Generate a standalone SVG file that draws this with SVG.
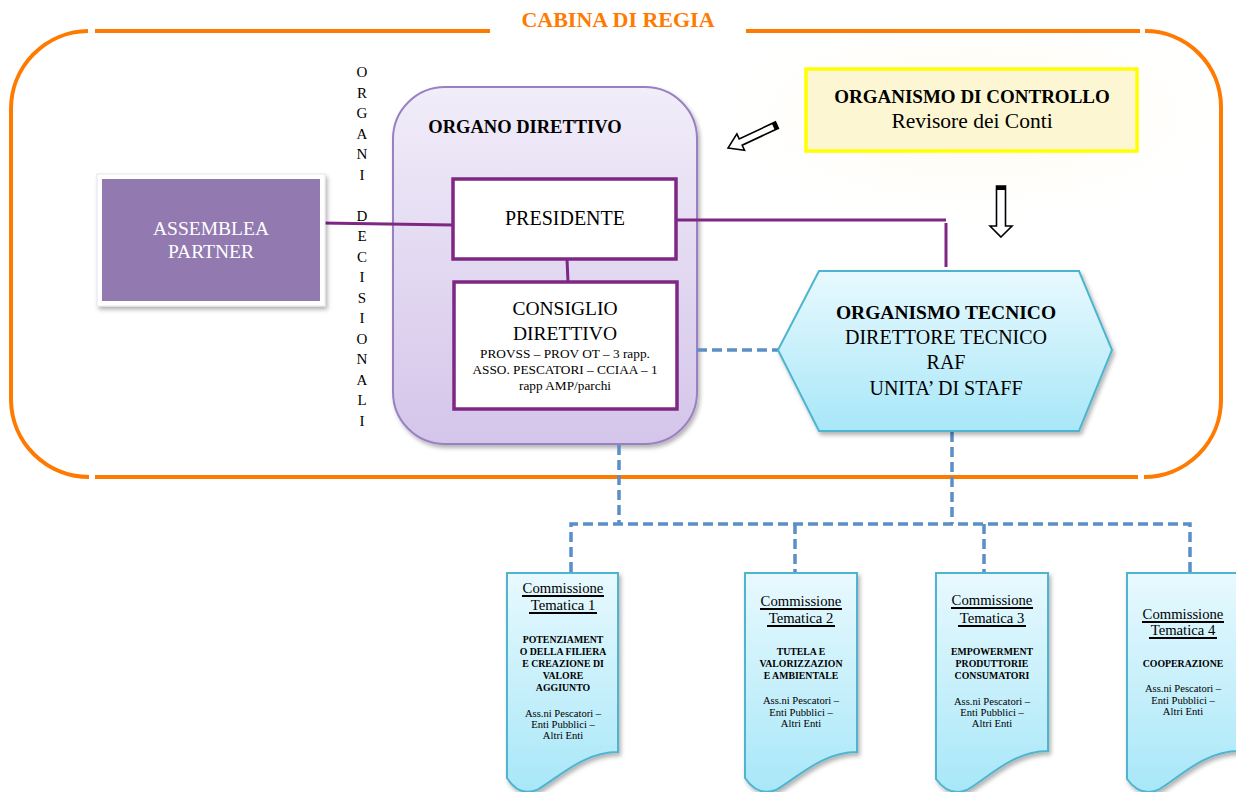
<svg xmlns="http://www.w3.org/2000/svg" width="1236" height="792" viewBox="0 0 1236 792">
<defs>
<linearGradient id="gDir" x1="0" y1="0" x2="0" y2="1"><stop offset="0" stop-color="#f1edf9"/><stop offset="1" stop-color="#d4c5ea"/></linearGradient>
<linearGradient id="gBlue" x1="0" y1="0" x2="0" y2="1"><stop offset="0" stop-color="#e8f9fe"/><stop offset="1" stop-color="#a8e7f8"/></linearGradient>
<radialGradient id="gGlow" cx="0.5" cy="0.5" r="0.5"><stop offset="0" stop-color="#fdf8e2" stop-opacity="0.9"/><stop offset="1" stop-color="#ffffff" stop-opacity="0"/></radialGradient>
<filter id="sh" x="-10%" y="-10%" width="125%" height="125%"><feDropShadow dx="2" dy="3" stdDeviation="2" flood-color="#000" flood-opacity="0.3"/></filter>
<style>
.t{font-family:"Liberation Serif","Times New Roman",serif;fill:#000;text-anchor:middle}
.b{font-weight:bold}
.frame{fill:none;stroke:#ff7a00;stroke-width:4}
.pl{fill:none;stroke:#7e2783;stroke-width:3}
.pbox{fill:#fff;stroke:#7e2783;stroke-width:3.5}
.dash{fill:none;stroke:#5b8fc8;stroke-width:3.5;stroke-dasharray:10 5}
.doc{fill:url(#gBlue);stroke:#4fb4cf;stroke-width:2;filter:url(#sh)}
.arr{fill:#fff;stroke:#000;stroke-width:1.6;stroke-linejoin:miter}
.ul{stroke:#000;stroke-width:1.8}
</style>
</defs>
<rect width="1236" height="792" fill="#fff"/>
<ellipse cx="975" cy="115" rx="290" ry="120" fill="url(#gGlow)"/>

<!-- Cabina di regia frame -->
<g id="cabina">
<path class="frame" d="M88,31 A78,78 0 0 0 11,109 V400 A78,78 0 0 0 89,477"/>
<path class="frame" d="M95,31 H490"/>
<path class="frame" d="M746,31 H1140"/>
<path class="frame" d="M1145,31 A76,76 0 0 1 1221,107 V400 A77,77 0 0 1 1144,477"/>
<path class="frame" d="M95,477 H1138"/>
<text class="t b" x="618" y="27" font-size="22" style="fill:#ff7a00">CABINA DI REGIA</text>
</g>

<!-- vertical label -->
<g id="organi-decisionali" class="t" font-size="15">
<text x="362" y="77">O</text><text x="362" y="97.5">R</text><text x="362" y="118">G</text><text x="362" y="138.5">A</text><text x="362" y="159">N</text><text x="362" y="179.5">I</text>
<text x="362" y="220.5">D</text><text x="362" y="241">E</text><text x="362" y="261.5">C</text><text x="362" y="282">I</text><text x="362" y="302.5">S</text><text x="362" y="323">I</text><text x="362" y="343.5">O</text><text x="362" y="364">N</text><text x="362" y="384.5">A</text><text x="362" y="405">L</text><text x="362" y="425.5">I</text>
</g>

<!-- Organo direttivo container -->
<g id="organo-direttivo">
<rect x="393" y="87" width="304" height="357" rx="52" fill="url(#gDir)" stroke="#9a80c2" stroke-width="2" filter="url(#sh)"/>
<text class="t b" x="525" y="133" font-size="18.5">ORGANO DIRETTIVO</text>
</g>

<!-- connectors -->
<g id="connectors">
<path class="pl" d="M321,223 L453,225"/>
<path class="pl" d="M567,259 L568,282"/>
<path class="pl" d="M676,220 H946"/>
<path class="pl" d="M946,223 V267"/>
<path class="dash" d="M697,350 H779"/>
<path class="dash" d="M619,445 V524"/>
<path class="dash" d="M952,432 V524"/>
<path class="dash" d="M571,572 V524 H1190 V572"/>
<path class="dash" d="M795,524 V572"/>
<path class="dash" d="M984,524 V572"/>
</g>

<g id="presidente">
<rect class="pbox" x="453" y="179" width="223" height="80"/>
<text class="t" x="565" y="225" font-size="20">PRESIDENTE</text>
</g>

<g id="consiglio-direttivo">
<rect class="pbox" x="454" y="282" width="223" height="127"/>
<text class="t" x="565" y="315" font-size="19.5">CONSIGLIO</text>
<text class="t" x="565" y="340" font-size="19.5">DIRETTIVO</text>
<text class="t" x="565" y="358" font-size="13.3">PROVSS – PROV OT – 3 rapp.</text>
<text class="t" x="565" y="374" font-size="13.3">ASSO. PESCATORI – CCIAA – 1</text>
<text class="t" x="565" y="390" font-size="13.3">rapp AMP/parchi</text>
</g>

<g id="assemblea-partner">
<rect x="97" y="174" width="228" height="132" fill="#fff" stroke="#e8e4ee" stroke-width="1" filter="url(#sh)"/>
<rect x="102" y="179" width="218" height="122" fill="#927ab0"/>
<text class="t" x="211" y="235" font-size="19.5" style="fill:#fff">ASSEMBLEA</text>
<text class="t" x="211" y="258" font-size="19.5" style="fill:#fff">PARTNER</text>
</g>

<g id="organismo-controllo">
<rect x="806" y="69" width="331" height="82" fill="#fdf6d2" stroke="#ffff00" stroke-width="3.5"/>
<text class="t b" x="972" y="103" font-size="19">ORGANISMO DI CONTROLLO</text>
<text class="t" x="972" y="128" font-size="21.5">Revisore dei Conti</text>
</g>

<g id="frecce">
<g transform="translate(728,148) rotate(154.9)">
<polygon class="arr" points="0,0 -14,-9 -14,-3.5 -54,-3.5 -54,3.5 -14,3.5 -14,9"/>
<rect x="-54" y="-3.5" width="4" height="7" fill="#000"/>
</g>
<g transform="translate(1001,237) rotate(90)">
<polygon class="arr" points="0,0 -11,-11 -11,-4.5 -51,-4.5 -51,4.5 -11,4.5 -11,11"/>
<rect x="-51" y="-4.5" width="4" height="9" fill="#000"/>
</g>
</g>

<g id="organismo-tecnico">
<polygon points="778,350 819,271 1079,271 1112,350 1079,431 819,431" fill="url(#gBlue)" stroke="#4fb4cf" stroke-width="2" filter="url(#sh)"/>
<text class="t b" x="946" y="319" font-size="19.5">ORGANISMO TECNICO</text>
<text class="t" x="946" y="344" font-size="20">DIRETTORE TECNICO</text>
<text class="t" x="946" y="369" font-size="20">RAF</text>
<text class="t" x="946" y="395" font-size="20">UNITA’ DI STAFF</text>
</g>

<g id="commissione-1">
<path class="doc" d="M507,573 H618 V752 C583,752 558,778 537,790 Q519,797 507,778 Z"/>
<text class="t" x="563" y="593" font-size="14.7">Commissione</text>
<line class="ul" x1="522" y1="596" x2="604" y2="596"/>
<text class="t" x="563" y="610" font-size="14.7">Tematica 1</text>
<line class="ul" x1="529" y1="613" x2="597" y2="613"/>
<g class="t b" font-size="9.8">
<text x="563" y="643">POTENZIAMENT</text>
<text x="563" y="655">O DELLA FILIERA</text>
<text x="563" y="667">E CREAZIONE DI</text>
<text x="563" y="679">VALORE</text>
<text x="563" y="691">AGGIUNTO</text>
</g>
<g class="t" font-size="10.6">
<text x="563" y="717">Ass.ni Pescatori –</text>
<text x="563" y="728">Enti Pubblici –</text>
<text x="563" y="739">Altri Enti</text>
</g>
</g>

<g id="commissione-2">
<path class="doc" d="M745,573 H857 V752 C822,752 797,778 776,790 Q758,797 745,778 Z"/>
<text class="t" x="801" y="606" font-size="14.7">Commissione</text>
<line class="ul" x1="760" y1="609" x2="842" y2="609"/>
<text class="t" x="801" y="623" font-size="14.7">Tematica 2</text>
<line class="ul" x1="767" y1="626" x2="835" y2="626"/>
<g class="t b" font-size="9.8">
<text x="801" y="655">TUTELA E</text>
<text x="801" y="667">VALORIZZAZION</text>
<text x="801" y="679">E AMBIENTALE</text>
</g>
<g class="t" font-size="10.6">
<text x="801" y="704">Ass.ni Pescatori –</text>
<text x="801" y="716">Enti Pubblici –</text>
<text x="801" y="727">Altri Enti</text>
</g>
</g>

<g id="commissione-3">
<path class="doc" d="M936,573 H1048 V751 C1013,751 988,778 967,790 Q949,797 936,779 Z"/>
<text class="t" x="992" y="605" font-size="14.7">Commissione</text>
<line class="ul" x1="951" y1="608" x2="1033" y2="608"/>
<text class="t" x="992" y="623" font-size="14.7">Tematica 3</text>
<line class="ul" x1="958" y1="626" x2="1026" y2="626"/>
<g class="t b" font-size="9.8">
<text x="992" y="655">EMPOWERMENT</text>
<text x="992" y="667">PRODUTTORIE</text>
<text x="992" y="679">CONSUMATORI</text>
</g>
<g class="t" font-size="10.6">
<text x="992" y="705">Ass.ni Pescatori –</text>
<text x="992" y="716">Enti Pubblici –</text>
<text x="992" y="727">Altri Enti</text>
</g>
</g>

<g id="commissione-4">
<path class="doc" d="M1127,573 H1239 V751 C1204,751 1179,778 1158,790 Q1140,797 1127,779 Z"/>
<text class="t" x="1183" y="619" font-size="14.7">Commissione</text>
<line class="ul" x1="1142" y1="622" x2="1224" y2="622"/>
<text class="t" x="1183" y="635" font-size="14.7">Tematica 4</text>
<line class="ul" x1="1149" y1="638" x2="1217" y2="638"/>
<text class="t b" x="1183" y="667" font-size="9.8">COOPERAZIONE</text>
<g class="t" font-size="10.6">
<text x="1183" y="692">Ass.ni Pescatori –</text>
<text x="1183" y="704">Enti Pubblici –</text>
<text x="1183" y="715">Altri Enti</text>
</g>
</g>
</svg>
